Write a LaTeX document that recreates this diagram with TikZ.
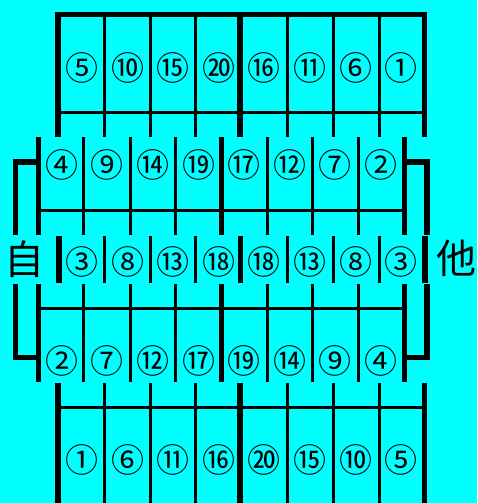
\documentclass[tikz,border=0pt]{standalone}
\usepackage{fontspec}
\newfontfamily\jpfont{Noto Sans CJK JP}
\usetikzlibrary{positioning}
\definecolor{bgcyan}{RGB}{0,255,255}

\begin{document}
\begin{tikzpicture}[x=1pt,y=-1pt,
      thickline/.style={line width=5.5pt},
      thinline/.style={line width=3pt},
      num/.style={font=\jpfont\fontsize{33}{33}\selectfont,inner sep=0pt},
      side/.style={font=\jpfont\fontsize{40}{40}\selectfont,inner sep=0pt}]

    \fill[bgcyan] (0,0) rectangle (477,503);
    \useasboundingbox (0,0) rectangle (477,503);

    % top wall
    \draw[thickline] (55.5,14.5) -- (427,14.5);
    \foreach \x in {58,240,424.5} \draw[thickline] (\x,12) -- (\x,137);
    \foreach \x in {104.3,150,195.7,287.3,333.3,379} \draw[thinline] (\x,17) -- (\x,137);
    \draw[thinline] (58,112.5) -- (424.5,112.5);
    \foreach \t [count=\i] in {⑤,⑩,⑮,⑳,⑯,⑪,⑥,①}
      \node[num] (top\i) at ({82+45.6*(\i-1)},68) {\t};

    % upper wall
    \begin{scope}[xshift=-20.3pt]
      \foreach \x in {58.8,242,424.6} \draw[thickline] (\x,137) -- (\x,235);
      \foreach \x in {104,150.3,196,287.3,333,379} \draw[thinline] (\x,137) -- (\x,235);
      \draw[thinline] (58.8,210.7) -- (424.6,210.7);
      \foreach \t [count=\i] in {④,⑨,⑭,⑲,⑰,⑫,⑦,②}
        \node[num] (up\i) at ({82+45.6*(\i-1)},165) {\t};
    \end{scope}
    \draw[thickline] (38.5,162) -- (15.5,162) -- (15.5,235);
    \draw[thickline] (404.3,162) -- (427,162) -- (427,235);

    % middle wall
    \foreach \x in {59,240.5,425} \draw[thickline] (\x,236) -- (\x,283);
    \foreach \x in {104.3,150,195.7,287.3,333.3,379} \draw[thinline] (\x,236) -- (\x,283);
    \foreach \t [count=\i] in {③,⑧,⑬,⑱,⑱,⑬,⑧,③}
      \node[num] (mid\i) at ({82+45.6*(\i-1)},262) {\t};

    \node[side] (self)  at (25,259)  {自};
    \node[side] (other) at (456,258) {他};

    % lower wall
    \begin{scope}[xshift=-20.3pt]
      \foreach \x in {58.8,242,424.6} \draw[thickline] (\x,284) -- (\x,382);
      \foreach \x in {104,150.3,196,287.3,333,379} \draw[thinline] (\x,284) -- (\x,382);
      \draw[thinline] (58.8,308.3) -- (424.6,308.3);
      \foreach \t [count=\i] in {②,⑦,⑫,⑰,⑲,⑭,⑨,④}
        \node[num] (low\i) at ({82+45.6*(\i-1)},360.5) {\t};
    \end{scope}
    \draw[thickline] (15.5,284) -- (15.5,357.5) -- (38.5,357.5);
    \draw[thickline] (427,284) -- (427,357.5) -- (404.3,357.5);

    % bottom wall
    \foreach \x in {58,240,424.5} \draw[thickline] (\x,383) -- (\x,503);
    \foreach \x in {104.3,150,195.7,287.3,333.3,379} \draw[thinline] (\x,383) -- (\x,503);
    \draw[thinline] (58,407.7) -- (424.5,407.7);
    \foreach \t [count=\i] in {①,⑥,⑪,⑯,⑳,⑮,⑩,⑤}
      \node[num] (bot\i) at ({82+45.6*(\i-1)},459.5) {\t};
  \end{tikzpicture}
\end{document}
